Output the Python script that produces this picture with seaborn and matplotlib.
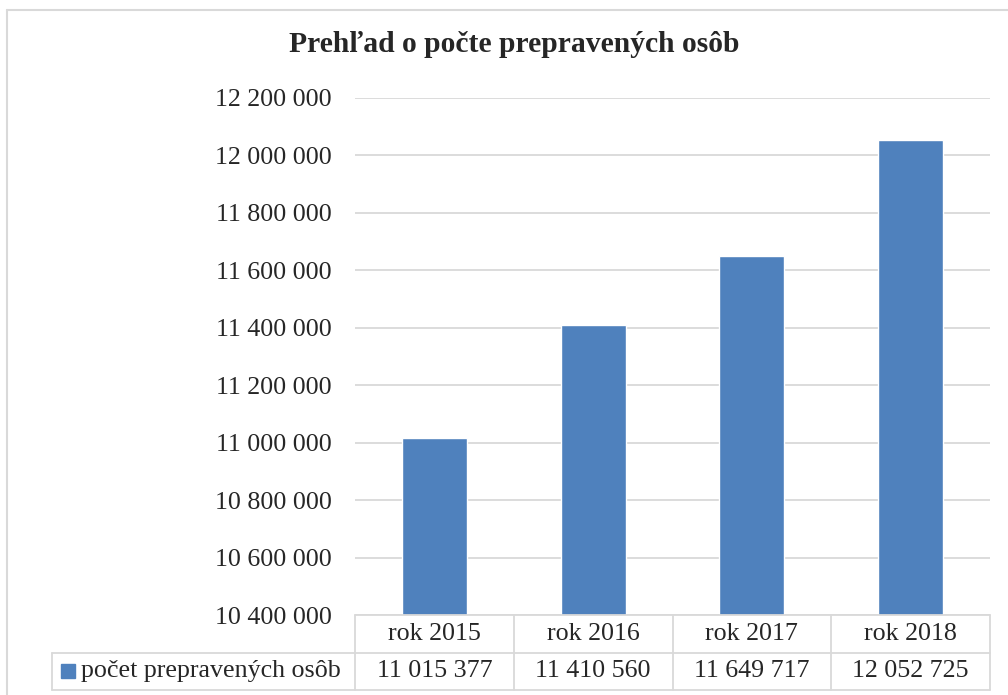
import matplotlib.pyplot as plt
import seaborn as sns
import pandas as pd
from matplotlib.lines import Line2D
from matplotlib.patches import Rectangle
from matplotlib.ticker import FuncFormatter

# data
years = ["rok 2015", "rok 2016", "rok 2017", "rok 2018"]
persons = [11015377, 11410560, 11649717, 12052725]
series_name = "počet prepravených osôb"
y_ticks = [10400000, 10600000, 10800000, 11000000, 11200000,
           11400000, 11600000, 11800000, 12000000, 12200000]

df = pd.DataFrame({"year": years, "persons": persons})

sns.set_style("white")
plt.rcParams["font.family"] = ["Liberation Serif", "DejaVu Serif"]

bar_color = "#4f81bd"
line_color = "#d9d9d9"
fs = 18.7

fig = plt.figure(figsize=(10.08, 6.95), dpi=100)
W, H = 1008, 695
ax = fig.add_axes([355 / W, 1 - 615 / H, 635 / W, (615 - 98) / H])

sns.barplot(data=df, x="year", y="persons", color=bar_color, width=0.41,
            saturation=1, ax=ax)

ax.set_ylim(y_ticks[0], y_ticks[-1])
ax.set_yticks(y_ticks)
ax.yaxis.set_major_formatter(FuncFormatter(lambda v, p: f"{int(v):,}".replace(",", " ")))
ax.tick_params(axis="y", length=0, pad=17, labelsize=fs)
ax.set_xticks([])
ax.set_xlabel("")
ax.set_ylabel("")
ax.grid(axis="y", color=line_color, linewidth=1.3)
ax.set_axisbelow(True)
for s in ax.spines.values():
    s.set_visible(False)

ax.set_title("Prehľad o počte prepravených osôb", fontsize=21.3,
             fontweight="bold", x=(514 - 355) / 635, y=1.0, pad=33)

# data table below the plot
ah = 517.0
row_h = 37.5 / ah
left_x = (52 - 355) / 635.0
tkw = dict(transform=ax.transAxes, clip_on=False, color=line_color, linewidth=1.3)
n = len(years)
# horizontal lines
ax.add_line(Line2D([0, 1], [0, 0], **tkw))
ax.add_line(Line2D([left_x, 1], [-row_h, -row_h], **tkw))
ax.add_line(Line2D([left_x, 1], [-2 * row_h, -2 * row_h], **tkw))
# vertical lines
for i in range(n + 1):
    ax.add_line(Line2D([i / n, i / n], [0, -2 * row_h], **tkw))
ax.add_line(Line2D([left_x, left_x], [-row_h, -2 * row_h], **tkw))

for i, (yr, val) in enumerate(zip(years, persons)):
    cx = (i + 0.5) / n
    ax.text(cx, -0.5 * row_h, yr, transform=ax.transAxes, ha="center",
            va="center", fontsize=fs)
    ax.text(cx, -1.5 * row_h, f"{val:,}".replace(",", " "),
            transform=ax.transAxes, ha="center", va="center", fontsize=fs)

# legend key in the table
ax.add_patch(Rectangle(((61 - 355) / 635.0, -1.5 * row_h - 7 / ah), 14 / 635.0, 14 / ah,
                       transform=ax.transAxes, clip_on=False, color=bar_color))
ax.text((81 - 355) / 635.0, -1.5 * row_h, series_name, transform=ax.transAxes,
        ha="left", va="center", fontsize=fs)

# chart area border
fig.add_artist(Line2D([7 / W, 7 / W], [0, 1 - 10 / H], transform=fig.transFigure,
                      color=line_color, linewidth=1.5))
fig.add_artist(Line2D([7 / W, 1], [1 - 10 / H, 1 - 10 / H], transform=fig.transFigure,
                      color=line_color, linewidth=1.5))

fig.savefig("out.png", dpi=100)
